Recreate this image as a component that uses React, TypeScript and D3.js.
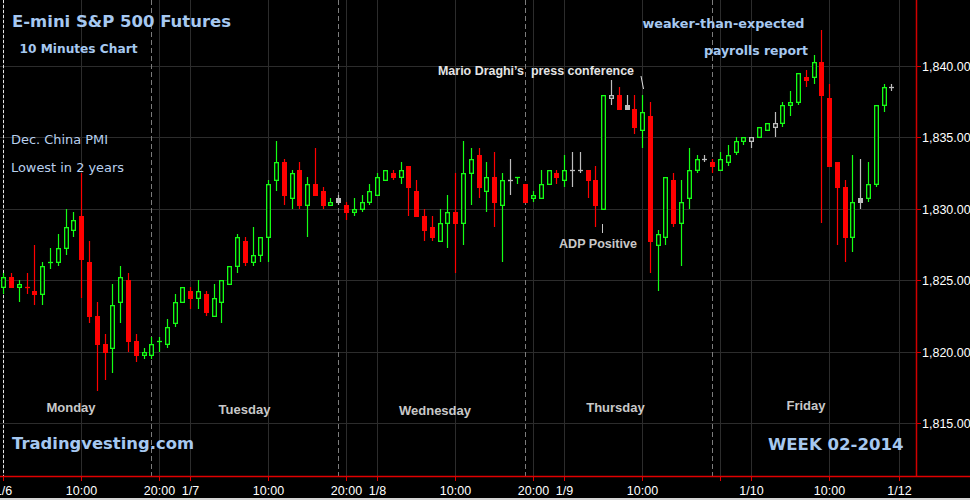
import React, { useEffect } from 'react';
import * as d3 from 'd3';

// ---------- DATA ----------
// Hourly bars [open, high, low, close]
const monday: number[][] = [
  [1824.5, 1825.5, 1824.0, 1825.25],
  [1825.25, 1825.5, 1824.5, 1824.5],
  [1824.5, 1825.0, 1823.5, 1824.75],
  [1824.5, 1825.5, 1824.0, 1824.5],
  [1824.25, 1827.5, 1823.25, 1824.0],
  [1824.0, 1826.25, 1823.25, 1826.0],
  [1826.25, 1827.25, 1825.75, 1826.25],
  [1826.25, 1828.25, 1826.0, 1827.25],
  [1827.25, 1830.0, 1826.75, 1828.75],
  [1828.5, 1829.75, 1828.0, 1829.25],
  [1829.5, 1832.5, 1823.75, 1826.5],
  [1826.25, 1827.75, 1822.0, 1822.5],
  [1822.5, 1823.5, 1817.25, 1820.5],
  [1820.5, 1821.25, 1818.0, 1820.0],
  [1820.25, 1824.75, 1818.5, 1823.25],
  [1823.5, 1826.0, 1822.0, 1825.25],
  [1825.0, 1825.5, 1820.0, 1820.75],
  [1820.75, 1821.25, 1819.25, 1819.75],
  [1819.75, 1820.25, 1819.5, 1820.0],
  [1819.75, 1821.0, 1819.5, 1820.5],
  [1820.75, 1821.0, 1820.0, 1820.75],
  [1820.5, 1822.25, 1820.25, 1821.75],
  [1822.0, 1824.0, 1821.75, 1823.5],
  [1823.5, 1824.5, 1823.5, 1824.5],
];
const tuesday: number[][] = [
  [1824.25, 1824.5, 1823.0, 1823.75],
  [1823.75, 1825.0, 1823.0, 1824.25],
  [1824.0, 1824.25, 1822.5, 1822.75],
  [1822.5, 1824.75, 1822.5, 1823.75],
  [1823.5, 1825.0, 1822.0, 1825.0],
  [1824.75, 1826.0, 1824.75, 1826.0],
  [1826.0, 1828.25, 1825.5, 1828.0],
  [1827.75, 1828.0, 1826.0, 1826.25],
  [1826.25, 1828.75, 1826.0, 1826.75],
  [1826.75, 1828.0, 1826.25, 1828.0],
  [1828.0, 1832.0, 1826.25, 1831.75],
  [1832.0, 1834.75, 1831.25, 1833.25],
  [1833.25, 1833.5, 1830.25, 1831.0],
  [1830.75, 1832.75, 1830.0, 1832.5],
  [1832.75, 1833.25, 1830.0, 1830.25],
  [1830.25, 1832.25, 1828.0, 1831.75],
  [1831.75, 1834.25, 1831.0, 1831.0],
  [1831.25, 1831.5, 1830.0, 1830.25],
  [1830.25, 1830.75, 1830.25, 1830.5],
  [1830.75, 1831.0, 1830.25, 1830.5],
  [1830.25, 1830.5, 1829.25, 1829.75],
  [1829.75, 1830.75, 1829.5, 1830.0],
  [1830.0, 1831.0, 1829.75, 1830.5],
  [1830.5, 1831.75, 1830.25, 1831.25],
];
const wednesday: number[][] = [
  [1831.0, 1832.5, 1831.0, 1832.25],
  [1832.0, 1832.75, 1832.0, 1832.75],
  [1832.5, 1832.75, 1832.0, 1832.25],
  [1832.25, 1833.25, 1831.75, 1832.75],
  [1833.0, 1833.0, 1829.5, 1831.5],
  [1831.25, 1832.0, 1829.5, 1829.5],
  [1829.5, 1830.0, 1827.75, 1828.5],
  [1828.75, 1829.5, 1827.75, 1828.0],
  [1827.75, 1830.0, 1827.75, 1829.0],
  [1829.0, 1831.0, 1827.25, 1829.75],
  [1829.75, 1832.5, 1825.5, 1829.0],
  [1829.0, 1834.75, 1827.5, 1832.5],
  [1832.5, 1834.25, 1830.25, 1833.5],
  [1833.75, 1834.25, 1830.75, 1831.5],
  [1831.25, 1833.25, 1829.75, 1832.25],
  [1832.25, 1834.0, 1828.75, 1830.5],
  [1830.25, 1832.5, 1826.25, 1832.0],
  [1832.0, 1833.5, 1831.0, 1832.0],
  [1832.25, 1832.25, 1831.75, 1832.25],
  [1831.75, 1831.75, 1830.5, 1830.5],
  [1830.75, 1831.25, 1830.5, 1831.0],
  [1830.75, 1832.75, 1830.75, 1831.75],
  [1831.75, 1832.75, 1831.75, 1832.75],
  [1832.5, 1832.75, 1831.75, 1832.25],
];
const thursday: number[][] = [
  [1832.0, 1833.75, 1831.5, 1832.75],
  [1832.75, 1834.0, 1831.5, 1832.75],
  [1832.75, 1834.0, 1832.5, 1832.75],
  [1832.75, 1832.75, 1830.75, 1832.0],
  [1832.0, 1833.0, 1828.75, 1830.25],
  [1830.0, 1838.0, 1830.0, 1838.0],
  [1837.75, 1839.0, 1837.25, 1838.0],
  [1838.0, 1838.5, 1837.0, 1837.0],
  [1837.25, 1838.0, 1837.0, 1837.0],
  [1837.0, 1838.0, 1835.25, 1835.75],
  [1835.5, 1838.0, 1834.25, 1836.75],
  [1836.5, 1837.5, 1825.5, 1827.75],
  [1827.5, 1828.5, 1824.25, 1828.25],
  [1828.0, 1832.25, 1827.5, 1832.25],
  [1832.0, 1832.5, 1828.75, 1829.0],
  [1829.0, 1832.0, 1826.0, 1830.5],
  [1830.75, 1834.25, 1830.0, 1832.75],
  [1832.75, 1833.75, 1832.5, 1833.5],
  [1833.5, 1833.75, 1833.25, 1833.5],
  [1833.25, 1833.5, 1832.5, 1833.0],
  [1832.75, 1834.0, 1832.75, 1833.5],
  [1833.25, 1834.5, 1833.0, 1833.75],
  [1834.0, 1835.0, 1833.75, 1834.75],
  [1834.75, 1835.0, 1834.5, 1835.0],
];
const friday: number[][] = [
  [1834.75, 1835.0, 1834.25, 1835.0],
  [1835.0, 1835.75, 1835.0, 1835.75],
  [1835.5, 1836.0, 1835.5, 1836.0],
  [1835.75, 1836.75, 1835.0, 1836.0],
  [1836.0, 1837.5, 1835.75, 1837.25],
  [1837.25, 1838.25, 1836.5, 1837.5],
  [1837.5, 1839.5, 1837.25, 1839.5],
  [1839.25, 1839.75, 1838.5, 1839.0],
  [1839.25, 1840.75, 1838.75, 1840.25],
  [1840.25, 1842.5, 1829.0, 1838.0],
  [1837.75, 1838.75, 1833.0, 1833.0],
  [1833.25, 1833.25, 1827.5, 1831.5],
  [1831.5, 1832.0, 1826.25, 1828.0],
  [1828.0, 1833.75, 1827.0, 1830.5],
  [1830.75, 1833.5, 1830.0, 1830.5],
  [1830.75, 1833.25, 1830.5, 1831.75],
  [1831.75, 1837.25, 1831.5, 1837.25],
  [1837.25, 1838.75, 1836.75, 1838.5],
  [1838.5, 1838.75, 1838.25, 1838.5],
];

const priceTicks = [1815, 1820, 1825, 1830, 1835, 1840];
const timeTickIndex = [0, 10, 20, 24, 34, 44, 48, 58, 68, 72, 82, 92, 96, 106, 115];
const timeTickLabels = ['1/6', '10:00', '20:00', '1/7', '10:00', '20:00', '1/8', '10:00', '20:00', '1/9', '10:00', '', '1/10', '10:00', '1/12'];
const sessionBreaks = [0, 19, 43, 67, 91];
const dayNames = ['Monday', 'Tuesday', 'Wednesday', 'Thursday', 'Friday'];

// ---------- STYLE ----------
const W = 970;
const H = 500;
const GREEN = '#14ff14';
const RED = '#ff0000';
const GRAY = '#bdbdbd';
const BLUE = '#a6c8f0';

export default function App() {
  useEffect(() => {
    document.body.style.margin = '0';
    document.body.style.background = '#000';
  }, []);

  const bars = [...monday, ...tuesday, ...wednesday, ...thursday, ...friday].map(([o, h, l, c], i) => ({ i, o, h, l, c }));
  const x = d3.scaleLinear().domain([0, 115]).range([3.3, 899.2]);
  const y = d3.scaleLinear().domain([1815, 1840]).range([423, 66]);
  const plotRight = 916.5;
  const axisY = 476.5;

  const dayLabelPos = [
    { cx: 71, by: 412 },
    { cx: 244.5, by: 414 },
    { cx: 435, by: 415 },
    { cx: 615.5, by: 412 },
    { cx: 806, by: 410 },
  ];

  const candles = bars.map((b, k) => {
    const prev = k > 0 ? bars[k - 1].c : undefined;
    let color: string;
    if (prev !== undefined && b.c === prev) color = GRAY;
    else if (b.c > b.o) color = GREEN;
    else if (b.c < b.o) color = RED;
    else color = prev !== undefined && b.c > prev ? GREEN : RED;
    const cx = Math.round(x(b.i));
    const wx = cx + 0.5;
    const yh = Math.round(y(b.h));
    const yl = Math.round(y(b.l));
    const yo = Math.round(y(b.o));
    const yc = Math.round(y(b.c));
    const top = Math.min(yo, yc);
    const bot = Math.max(yo, yc);
    if (b.c === b.o) {
      return (
        <g key={k}>
          <line x1={wx} x2={wx} y1={yh} y2={Math.max(yl, yh + 1)} stroke={color} strokeWidth={1.2} />
          <line x1={cx - 2} x2={cx + 3} y1={yc + 0.5} y2={yc + 0.5} stroke={color} strokeWidth={1.3} />
        </g>
      );
    }
    if (b.c > b.o) {
      return (
        <g key={k}>
          {yh < top && <line x1={wx} x2={wx} y1={yh} y2={top} stroke={color} strokeWidth={1.2} />}
          {yl > bot && <line x1={wx} x2={wx} y1={bot} y2={yl} stroke={color} strokeWidth={1.2} />}
          <rect x={cx - 2 + 0.65} y={top + 0.65} width={3.7} height={Math.max(bot - top - 0.3, 1.5)} fill="#000" stroke={color} strokeWidth={1.3} />
        </g>
      );
    }
    return (
      <g key={k}>
        <line x1={wx} x2={wx} y1={yh} y2={yl} stroke={color} strokeWidth={1.2} />
        <rect x={cx - 2} y={top} width={5} height={Math.max(bot - top + 1, 2)} fill={color} />
      </g>
    );
  });

  return (
    <svg width={W} height={H} style={{ position: 'absolute', left: 0, top: 0, background: '#000', display: 'block' }}>
      <rect x={0} y={0} width={W} height={H} fill="#000" />
      {/* horizontal grid */}
      {priceTicks.map((p) => (
        <line key={'hg' + p} x1={0} x2={plotRight} y1={Math.round(y(p)) + 0.5} y2={Math.round(y(p)) + 0.5} stroke="#2c2c2c" strokeWidth={1} />
      ))}
      {/* vertical grid */}
      {timeTickIndex.map((t, k) => (
        <line key={'vg' + k} x1={Math.round(x(t)) + 0.5} x2={Math.round(x(t)) + 0.5} y1={0} y2={axisY} stroke="#2c2c2c" strokeWidth={1} />
      ))}
      {/* session breaks */}
      {sessionBreaks.map((t, k) => (
        <line key={'sb' + k} x1={Math.round(x(t)) + 0.5} x2={Math.round(x(t)) + 0.5} y1={0} y2={axisY}
          stroke={k === 0 ? '#e6e6e6' : '#7c7c7c'} strokeWidth={1} strokeDasharray={k === 0 ? '3,2' : '5,3'} />
      ))}

      {/* texts */}
      <text x={12} y={27} fill={BLUE} fontFamily="DejaVu Sans, Verdana, sans-serif" fontWeight="bold" fontSize={16} textLength={219} lengthAdjust="spacingAndGlyphs">E-mini S&amp;P 500 Futures</text>
      <text x={19.5} y={53} fill={BLUE} fontFamily="DejaVu Sans, Verdana, sans-serif" fontWeight="bold" fontSize={12.5} textLength={118} lengthAdjust="spacingAndGlyphs">10 Minutes Chart</text>
      <text x={11} y={144} fill="#b9d0ee" fontFamily="DejaVu Sans, Verdana, sans-serif" fontSize={12.5} textLength={97} lengthAdjust="spacingAndGlyphs">Dec. China PMI</text>
      <text x={11} y={172} fill="#b9d0ee" fontFamily="DejaVu Sans, Verdana, sans-serif" fontSize={12.5} textLength={113} lengthAdjust="spacingAndGlyphs">Lowest in 2 years</text>
      <text x={642.5} y={28} fill={BLUE} fontFamily="DejaVu Sans, Verdana, sans-serif" fontWeight="bold" fontSize={13} textLength={162} lengthAdjust="spacingAndGlyphs">weaker-than-expected</text>
      <text x={704} y={55} fill={BLUE} fontFamily="DejaVu Sans, Verdana, sans-serif" fontWeight="bold" fontSize={13} textLength={104} lengthAdjust="spacingAndGlyphs">payrolls report</text>
      <text x={438} y={75} fill="#e4e4e4" fontFamily="Liberation Sans, Arial, sans-serif" fontWeight="bold" fontSize={12.5} textLength={196} lengthAdjust="spacingAndGlyphs" style={{ whiteSpace: 'pre' }}>Mario Draghi’s  press conference</text>
      <line x1={641} y1={76} x2={643.5} y2={89} stroke="#e0e0e0" strokeWidth={1} />
      <text x={559} y={248} fill="#c8c8c8" fontFamily="Liberation Sans, Arial, sans-serif" fontWeight="bold" fontSize={13} textLength={78} lengthAdjust="spacingAndGlyphs">ADP Positive</text>
      <line x1={602.5} y1={224} x2={602.5} y2={233} stroke="#c8c8c8" strokeWidth={1} />
      {dayNames.map((d, k) => (
        <text key={d} x={dayLabelPos[k].cx} y={dayLabelPos[k].by} fill="#c8c8c8" textAnchor="middle" fontFamily="Liberation Sans, Arial, sans-serif" fontWeight="bold" fontSize={13}>{d}</text>
      ))}
      <text x={12} y={448.5} fill={BLUE} fontFamily="DejaVu Sans, Verdana, sans-serif" fontWeight="bold" fontSize={16} textLength={182} lengthAdjust="spacingAndGlyphs">Tradingvesting.com</text>
      <text x={768} y={449.5} fill={BLUE} fontFamily="DejaVu Sans, Verdana, sans-serif" fontWeight="bold" fontSize={16} textLength={135.5} lengthAdjust="spacingAndGlyphs">WEEK 02-2014</text>

      {/* candles */}
      {candles}

      {/* y axis */}
      <line x1={plotRight} x2={plotRight} y1={0} y2={axisY} stroke="#d00000" strokeWidth={1.5} />
      {priceTicks.map((p) => (
        <g key={'yt' + p}>
          <line x1={plotRight} x2={921} y1={Math.round(y(p)) + 0.5} y2={Math.round(y(p)) + 0.5} stroke="#d00000" strokeWidth={1} />
          <text x={922} y={Math.round(y(p)) + 5} fill="#ffffff" fontFamily="Liberation Sans, Arial, sans-serif" fontSize={12.5}>{d3.format(',.2f')(p)}</text>
        </g>
      ))}
      {/* x axis */}
      <line x1={0} x2={W} y1={axisY} y2={axisY} stroke="#e00000" strokeWidth={1.5} />
      {timeTickIndex.map((t, k) => (
        <g key={'xt' + k}>
          <line x1={Math.round(x(t)) + 0.5} x2={Math.round(x(t)) + 0.5} y1={axisY} y2={481} stroke="#e00000" strokeWidth={1} />
          <text x={Math.round(x(t)) + 0.5} y={495} fill="#ffffff" textAnchor="middle" fontFamily="Liberation Sans, Arial, sans-serif" fontSize={12.5}>{timeTickLabels[k]}</text>
        </g>
      ))}
      <rect x={0} y={498} width={W} height={2} fill="#d4d4d4" />
    </svg>
  );
}
